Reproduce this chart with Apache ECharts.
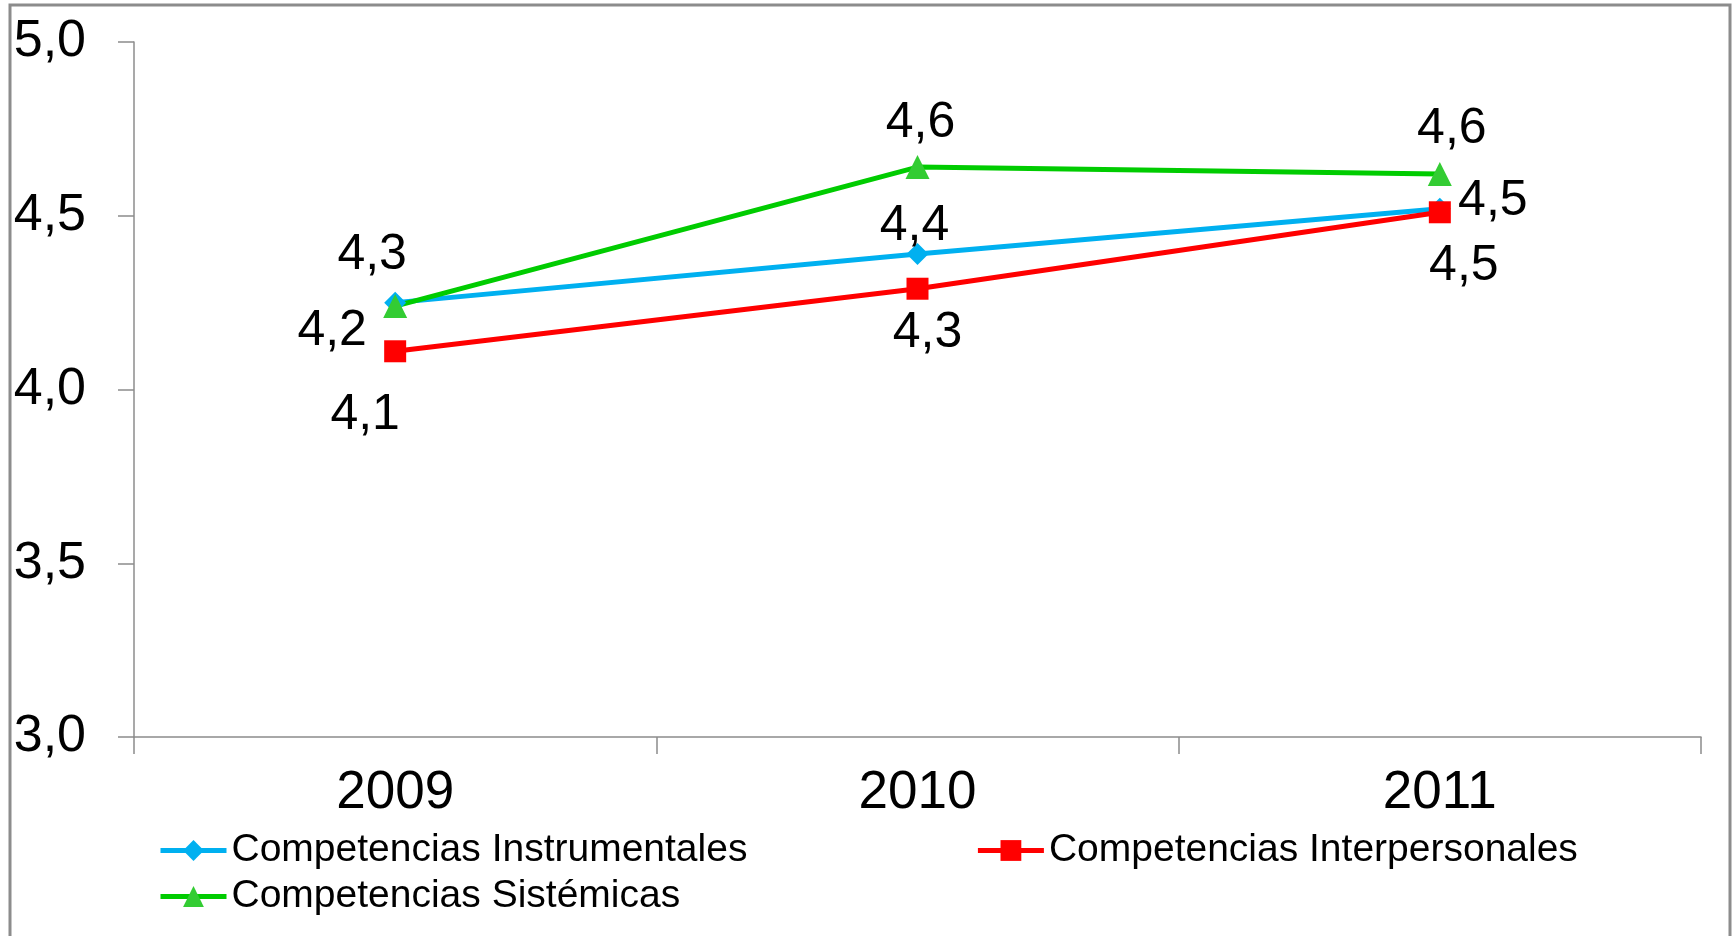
<!DOCTYPE html>
<html>
<head>
<meta charset="utf-8">
<script src="https://cdn.jsdelivr.net/npm/echarts@6/dist/echarts.min.js"></script>
<style>
  html, body { margin: 0; padding: 0; background: #fff; }
  #chart { width: 1735px; height: 936px; }
</style>
</head>
<body>
<div id="chart"></div>
<script>
var years = ['2009', '2010', '2011'];
var instrumentales = [4.25, 4.39, 4.52];
var interpersonales = [4.11, 4.29, 4.51];
var sistemicas = [4.24, 4.64, 4.62];

// label offsets relative to each point (layout only)
var offInstr = [[-23, -47], [-3, -28], [53, -8]];
var offInter = [[-30, 64], [10, 44], [24, 54]];
var offSist = [[-63, 25], [3, -44], [12, -45]];

var font = 'Arial, "Liberation Sans", sans-serif';

function comma(v) {
  return v.toFixed(1).replace('.', ',');
}

function buildData(values, offsets) {
  return values.map(function (v, i) {
    return { value: v, label: { offset: offsets[i] } };
  });
}

function lineSeries(name, values, offsets, color, symbol, size, fill) {
  return {
    name: name,
    type: 'line',
    data: buildData(values, offsets),
    symbol: symbol,
    symbolSize: size,
    lineStyle: { color: color, width: 5 },
    itemStyle: { color: fill || color, borderWidth: 0 },
    label: {
      show: true,
      position: 'inside',
      color: '#000',
      fontFamily: font,
      fontSize: 50,
      formatter: function (p) { return comma(p.value); }
    },
    emphasis: { disabled: true },
    animation: false
  };
}

var chart = echarts.init(document.getElementById('chart'));

var legendBase = {
  left: 153,
  itemWidth: 66,
  itemHeight: 26,
  lineStyle: { width: 5 },
  textStyle: { fontFamily: font, fontSize: 39, color: '#000' }
};

var option = {
  backgroundColor: '#fff',
  graphic: [{
    type: 'rect',
    shape: { x: 10, y: 5, width: 1720, height: 960 },
    style: { fill: 'none', stroke: '#8c8c8c', lineWidth: 3 },
    silent: true
  }],
  grid: { left: 134, right: 34, top: 42, bottom: 199 },
  legend: [
    Object.assign({}, legendBase, {
      data: ['Competencias Instrumentales', 'Competencias Interpersonales'],
      top: 826,
      itemGap: 228
    }),
    Object.assign({}, legendBase, {
      data: ['Competencias Sistémicas'],
      top: 872
    })
  ],
  xAxis: {
    type: 'category',
    data: years,
    boundaryGap: true,
    axisLine: { lineStyle: { color: '#8c8c8c', width: 1.5 } },
    axisTick: { show: true, length: 17, lineStyle: { color: '#8c8c8c', width: 1.5 } },
    axisLabel: { color: '#000', fontFamily: font, fontSize: 53, margin: 30 },
    splitLine: { show: false }
  },
  yAxis: {
    type: 'value',
    min: 3,
    max: 5,
    interval: 0.5,
    axisLine: { show: true, lineStyle: { color: '#8c8c8c', width: 1.5 } },
    axisTick: { show: true, length: 16, lineStyle: { color: '#8c8c8c', width: 1.5 } },
    axisLabel: {
      color: '#000', fontFamily: font, fontSize: 52, margin: 48,
      formatter: function (v) { return comma(v); }
    },
    splitLine: { show: false }
  },
  series: [
    lineSeries('Competencias Instrumentales', instrumentales, offInstr, '#00B0F0', 'diamond', 22),
    lineSeries('Competencias Interpersonales', interpersonales, offInter, '#FF0000', 'rect', 22),
    lineSeries('Competencias Sistémicas', sistemicas, offSist, '#00CC00', 'triangle', 24, '#33CC33')
  ]
};

chart.setOption(option);
</script>
</body>
</html>
